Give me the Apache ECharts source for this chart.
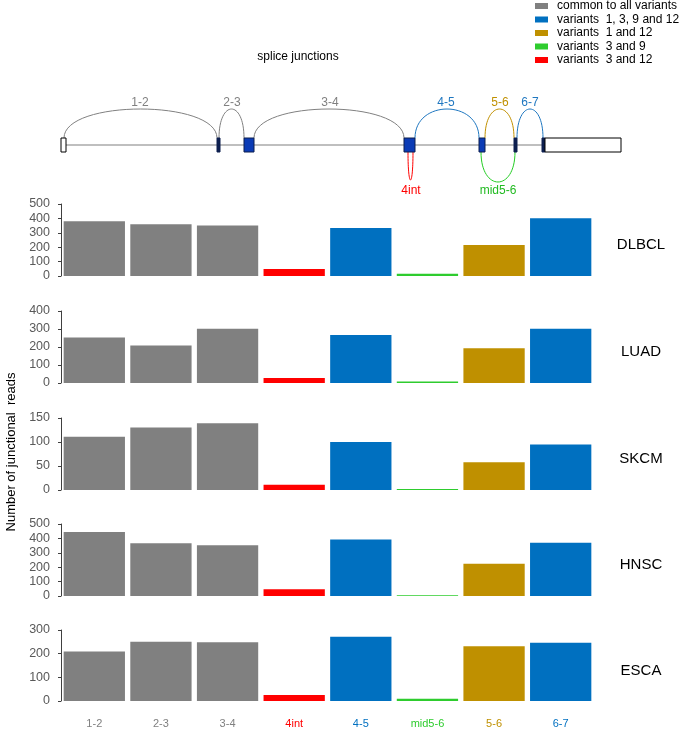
<!DOCTYPE html>
<html><head><meta charset="utf-8">
<script src="https://cdn.jsdelivr.net/npm/echarts@6/dist/echarts.min.js"></script>
<style>html,body{margin:0;padding:0;background:#fff}#c{width:684px;height:729px}</style>
</head><body><div id="c"></div>
<script>
const categories = ['1-2','2-3','3-4','4int','4-5','mid5-6','5-6','6-7'];
const groupNames = ['common to all variants','variants  1, 3, 9 and 12','variants  1 and 12','variants  3 and 9','variants  3 and 12'];
const categoryGroup = [0,0,0,4,1,3,2,1];
const panels = ['DLBCL','LUAD','SKCM','HNSC','ESCA'];
const dlbcl = [380, 359, 350, 49, 333, 16, 216, 401];
const luad  = [253, 208, 301, 28, 266, 8, 193, 301];
const skcm  = [111, 130, 139, 11, 100, 2, 58, 95];
const hnsc  = [444, 367, 353, 47, 393, 6, 224, 369];
const esca  = [209, 250, 248, 25, 272, 9, 231, 246];
const yMax = [500, 400, 150, 500, 300];
const yStep = [100, 100, 50, 100, 100];

const panelData = [dlbcl, luad, skcm, hnsc, esca];
const groupColors = ['#808080','#0070C0','#BF9000','#2ECC2E','#FF0000'];
const FONT = 'Liberation Sans, Arial, sans-serif';
const gridTops = [204, 311, 418, 524, 630];
const gridH = 72;

const grids = [], xAxes = [], yAxes = [], series = [];
panelData.forEach((vals, p) => {
  grids.push({left: 61, width: 533, top: gridTops[p], height: gridH});
  xAxes.push({type: 'category', gridIndex: p, data: categories,
    axisLine: {show: false}, axisTick: {show: false},
    axisLabel: {show: p === 4, margin: 17, fontSize: 11, fontFamily: FONT,
      color: (v, i) => groupColors[categoryGroup[i]]}});
  yAxes.push({type: 'value', gridIndex: p, min: 0, max: yMax[p], interval: yStep[p],
    axisLine: {show: true, lineStyle: {color: '#404040', width: 1}},
    axisTick: {show: true, length: 3, lineStyle: {color: '#404040'}},
    splitLine: {show: false},
    axisLabel: {fontSize: 12.5, color: '#595959', fontFamily: FONT, margin: 11}});
  groupNames.forEach((g, gi) => {
    series.push({type: 'bar', name: g, xAxisIndex: p, yAxisIndex: p, stack: 'p' + p,
      barCategoryGap: '8%',
      itemStyle: {color: groupColors[gi]},
      data: vals.map((v, i) => categoryGroup[i] === gi ? v : '-')});
  });
});

// gene structure schematic
const g = [];
const baseY = 145, exTop = 138, exBot = 152;
g.push({type: 'line', shape: {x1: 63, y1: baseY, x2: 545, y2: baseY}, style: {stroke: '#bfbfbf', lineWidth: 2}});
const exons = [
  [61, 66, '#ffffff', '#000'],
  [217, 220, '#0d1f4f', '#0d1f4f'],
  [244, 254, '#0b3bb5', '#0d1f4f'],
  [404, 415, '#0b3bb5', '#0d1f4f'],
  [479, 485, '#0b3bb5', '#0d1f4f'],
  [514, 517, '#0d1f4f', '#0d1f4f'],
  [542, 545, '#0d1f4f', '#0d1f4f'],
  [545, 621, '#ffffff', '#000']
];
exons.forEach(e => g.push({type: 'rect', shape: {x: e[0], y: exTop, width: e[1] - e[0], height: exBot - exTop},
  style: {fill: e[2], stroke: e[3], lineWidth: 1}, z: 10}));
const arcs = [
  [64, 217, '#808080', '1-2', 140],
  [219, 244, '#808080', '2-3', 232],
  [254, 404, '#808080', '3-4', 330],
  [415, 479, '#1F77C0', '4-5', 446],
  [485, 514, '#C09000', '5-6', 500],
  [517, 543, '#1F77C0', '6-7', 530]
];
const up = 29 * 4 / 3;
arcs.forEach(a => {
  g.push({type: 'bezierCurve', shape: {x1: a[0], y1: exTop, x2: a[1], y2: exTop,
    cpx1: a[0], cpy1: exTop - up, cpx2: a[1], cpy2: exTop - up},
    style: {stroke: a[2], lineWidth: 1, fill: null}});
  g.push({type: 'text', x: a[4], y: 103, style: {text: a[3], fill: a[2], font: '12px ' + FONT, textAlign: 'center', textVerticalAlign: 'middle'}});
});
g.push({type: 'bezierCurve', shape: {x1: 408, y1: exBot, x2: 413, y2: exBot, cpx1: 408, cpy1: exBot + 28 * 4 / 3, cpx2: 413, cpy2: exBot + 28 * 4 / 3},
  style: {stroke: '#FF0000', lineWidth: 1, fill: null}});
g.push({type: 'bezierCurve', shape: {x1: 481, y1: exBot, x2: 515, y2: exBot, cpx1: 481, cpy1: exBot + 30 * 4 / 3, cpx2: 515, cpy2: exBot + 30 * 4 / 3},
  style: {stroke: '#22CC22', lineWidth: 1, fill: null}});
g.push({type: 'text', x: 411, y: 191, style: {text: '4int', fill: '#FF0000', font: '12px ' + FONT, textAlign: 'center', textVerticalAlign: 'middle'}});
g.push({type: 'text', x: 498, y: 191, style: {text: 'mid5-6', fill: '#22BB22', font: '12px ' + FONT, textAlign: 'center', textVerticalAlign: 'middle'}});
g.push({type: 'text', x: 298, y: 57, style: {text: 'splice junctions', fill: '#000', font: '12px ' + FONT, textAlign: 'center', textVerticalAlign: 'middle'}});
// panel names
panels.forEach((n, p) => g.push({type: 'text', x: 641, y: gridTops[p] + 41,
  style: {text: n, fill: '#000', font: '15px ' + FONT, textAlign: 'center', textVerticalAlign: 'middle'}}));
// y title
g.push({type: 'text', x: 11, y: 452, rotation: Math.PI / 2,
  style: {text: 'Number of junctional  reads', fill: '#000', font: '13px ' + FONT, textAlign: 'center', textVerticalAlign: 'middle'}});

const chart = echarts.init(document.getElementById('c'), null, {renderer: 'canvas'});
chart.setOption({
  animation: false,
  textStyle: {fontFamily: FONT},
  legend: {orient: 'vertical', left: 535, top: 0, padding: 0, itemWidth: 13, itemHeight: 6, itemGap: 1.5,
    icon: 'rect', data: groupNames,
    textStyle: {fontSize: 12, color: '#000', fontFamily: FONT, padding: [0, 0, 0, 4]}, selectedMode: false},
  grid: grids, xAxis: xAxes, yAxis: yAxes, series: series,
  graphic: g
});
</script></body></html>
